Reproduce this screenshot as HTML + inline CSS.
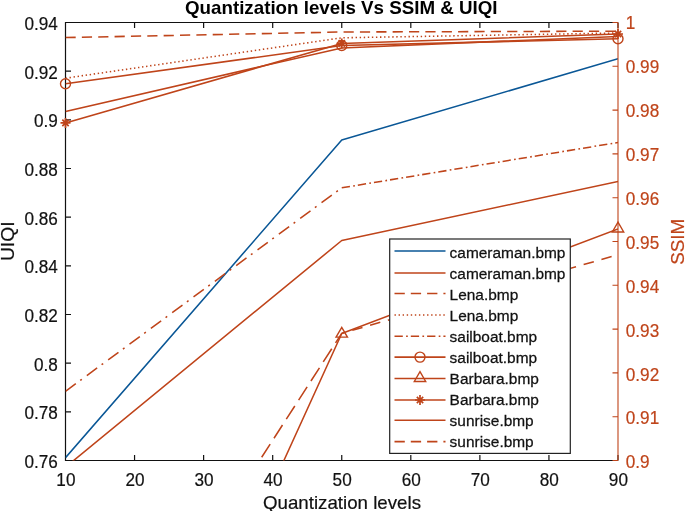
<!DOCTYPE html><html><head><meta charset="utf-8"><title>Quantization levels Vs SSIM &amp; UIQI</title>
<style>html,body{margin:0;padding:0;background:#fff;overflow:hidden;}svg{display:block;}text{font-family:"Liberation Sans",Arial,sans-serif;}</style></head><body>
<svg width="685" height="511" viewBox="0 0 685 511">
<rect width="685" height="511" fill="#fff"/>
<defs><clipPath id="c"><rect x="65.5" y="22.5" width="552.5" height="438.0"/></clipPath></defs>
<path d="M65.5,22.5 L618.0,22.5 M65.5,460.5 L618.0,460.5 M65.5,22.0 L65.5,461.0 M65.50,460.5 L65.50,455.0 M65.50,22.5 L65.50,28.0 M134.56,460.5 L134.56,455.0 M134.56,22.5 L134.56,28.0 M203.62,460.5 L203.62,455.0 M203.62,22.5 L203.62,28.0 M272.69,460.5 L272.69,455.0 M272.69,22.5 L272.69,28.0 M341.75,460.5 L341.75,455.0 M341.75,22.5 L341.75,28.0 M410.81,460.5 L410.81,455.0 M410.81,22.5 L410.81,28.0 M479.88,460.5 L479.88,455.0 M479.88,22.5 L479.88,28.0 M548.94,460.5 L548.94,455.0 M548.94,22.5 L548.94,28.0 M618.00,460.5 L618.00,455.0 M618.00,22.5 L618.00,28.0 M65.5,460.50 L71.0,460.50 M65.5,411.83 L71.0,411.83 M65.5,363.17 L71.0,363.17 M65.5,314.50 L71.0,314.50 M65.5,265.83 L71.0,265.83 M65.5,217.17 L71.0,217.17 M65.5,168.50 L71.0,168.50 M65.5,119.83 L71.0,119.83 M65.5,71.17 L71.0,71.17 M65.5,22.50 L71.0,22.50" fill="none" stroke="#111" stroke-width="1.2"/>
<g clip-path="url(#c)">
<polyline points="65.50,457.70 341.75,140.00 618.00,58.80" fill="none" stroke="#0a5796" stroke-width="1.55" stroke-linejoin="round"/>
<polyline points="65.50,467.20 341.75,240.50 618.00,181.50" fill="none" stroke="#bf441a" stroke-width="1.55" stroke-linejoin="round"/>
<polyline points="65.50,37.6 341.75,32.0 618.00,31.2" fill="none" stroke="#bf441a" stroke-width="1.55" stroke-dasharray="10.2 6.16"/>
<polyline points="65.50,78.2 341.75,37.8 618.00,33.0" fill="none" stroke="#bf441a" stroke-width="1.55" stroke-dasharray="1.4 2.67"/>
<line x1="65.50" y1="391.30" x2="341.75" y2="187.80" stroke="#bf441a" stroke-width="1.55" stroke-dasharray="12.8 5.5 2 6.2" stroke-dashoffset="0"/><line x1="341.75" y1="187.80" x2="618.00" y2="142.50" stroke="#bf441a" stroke-width="1.55" stroke-dasharray="8.3 3.3 1.7 3" stroke-dashoffset="0"/>
<polyline points="65.50,83.80 341.75,45.50 618.00,38.70" fill="none" stroke="#bf441a" stroke-width="1.55" stroke-linejoin="round"/>
<polyline points="65.50,940.00 341.75,333.50 618.00,228.90" fill="none" stroke="#bf441a" stroke-width="1.55" stroke-linejoin="round"/>
<polyline points="65.50,122.90 341.75,43.40 618.00,34.00" fill="none" stroke="#bf441a" stroke-width="1.55" stroke-linejoin="round"/>
<polyline points="65.50,111.40 341.75,47.90 618.00,36.40" fill="none" stroke="#bf441a" stroke-width="1.55" stroke-linejoin="round"/>
<line x1="341.75" y1="333.30" x2="65.50" y2="761.00" stroke="#bf441a" stroke-width="1.55" stroke-dasharray="15.7 7" stroke-dashoffset="4.3"/><line x1="341.75" y1="333.30" x2="618.00" y2="254.80" stroke="#bf441a" stroke-width="1.55" stroke-dasharray="10.6 7.9" stroke-dashoffset="7.54"/>
</g>
<circle cx="65.50" cy="83.80" r="5" fill="none" stroke="#bf441a" stroke-width="1.4"/>
<circle cx="341.75" cy="45.50" r="5" fill="none" stroke="#bf441a" stroke-width="1.4"/>
<circle cx="618.00" cy="38.70" r="5" fill="none" stroke="#bf441a" stroke-width="1.4"/>
<path d="M336.05,337.10 L347.45,337.10 L341.75,327.30 Z" fill="none" stroke="#bf441a" stroke-width="1.4" stroke-linejoin="miter"/>
<path d="M612.30,232.00 L623.70,232.00 L618.00,222.20 Z" fill="none" stroke="#bf441a" stroke-width="1.4" stroke-linejoin="miter"/>
<path d="M60.50,122.90 L70.50,122.90 M62.32,119.72 L68.68,126.08 M65.50,117.90 L65.50,127.90 M68.68,119.72 L62.32,126.08" fill="none" stroke="#bf441a" stroke-width="1.7"/>
<path d="M336.75,43.40 L346.75,43.40 M338.57,40.22 L344.93,46.58 M341.75,38.40 L341.75,48.40 M344.93,40.22 L338.57,46.58" fill="none" stroke="#bf441a" stroke-width="1.7"/>
<path d="M613.00,34.00 L623.00,34.00 M614.82,30.82 L621.18,37.18 M618.00,29.00 L618.00,39.00 M621.18,30.82 L614.82,37.18" fill="none" stroke="#bf441a" stroke-width="1.7"/>
<path d="M618.0,22.5 L618.0,460.5 M618.0,460.50 L612.5,460.50 M618.0,416.70 L612.5,416.70 M618.0,372.90 L612.5,372.90 M618.0,329.10 L612.5,329.10 M618.0,285.30 L612.5,285.30 M618.0,241.50 L612.5,241.50 M618.0,197.70 L612.5,197.70 M618.0,153.90 L612.5,153.90 M618.0,110.10 L612.5,110.10 M618.0,66.30 L612.5,66.30 M618.0,22.50 L612.5,22.50" fill="none" stroke="#bf441a" stroke-width="1.1"/>
<text transform="translate(65.90,485.8) scale(0.97,1)" font-size="17.7" text-anchor="middle" fill="#111" stroke="#111" stroke-width="0.2">10</text>
<text transform="translate(134.96,485.8) scale(0.97,1)" font-size="17.7" text-anchor="middle" fill="#111" stroke="#111" stroke-width="0.2">20</text>
<text transform="translate(204.03,485.8) scale(0.97,1)" font-size="17.7" text-anchor="middle" fill="#111" stroke="#111" stroke-width="0.2">30</text>
<text transform="translate(273.09,485.8) scale(0.97,1)" font-size="17.7" text-anchor="middle" fill="#111" stroke="#111" stroke-width="0.2">40</text>
<text transform="translate(342.15,485.8) scale(0.97,1)" font-size="17.7" text-anchor="middle" fill="#111" stroke="#111" stroke-width="0.2">50</text>
<text transform="translate(411.21,485.8) scale(0.97,1)" font-size="17.7" text-anchor="middle" fill="#111" stroke="#111" stroke-width="0.2">60</text>
<text transform="translate(480.27,485.8) scale(0.97,1)" font-size="17.7" text-anchor="middle" fill="#111" stroke="#111" stroke-width="0.2">70</text>
<text transform="translate(549.34,485.8) scale(0.97,1)" font-size="17.7" text-anchor="middle" fill="#111" stroke="#111" stroke-width="0.2">80</text>
<text transform="translate(618.40,485.8) scale(0.97,1)" font-size="17.7" text-anchor="middle" fill="#111" stroke="#111" stroke-width="0.2">90</text>
<text transform="translate(57.8,468.10) scale(0.97,1)" font-size="17.7" text-anchor="end" fill="#111" stroke="#111" stroke-width="0.2">0.76</text>
<text transform="translate(57.8,419.43) scale(0.97,1)" font-size="17.7" text-anchor="end" fill="#111" stroke="#111" stroke-width="0.2">0.78</text>
<text transform="translate(57.8,370.77) scale(0.97,1)" font-size="17.7" text-anchor="end" fill="#111" stroke="#111" stroke-width="0.2">0.8</text>
<text transform="translate(57.8,322.10) scale(0.97,1)" font-size="17.7" text-anchor="end" fill="#111" stroke="#111" stroke-width="0.2">0.82</text>
<text transform="translate(57.8,273.43) scale(0.97,1)" font-size="17.7" text-anchor="end" fill="#111" stroke="#111" stroke-width="0.2">0.84</text>
<text transform="translate(57.8,224.77) scale(0.97,1)" font-size="17.7" text-anchor="end" fill="#111" stroke="#111" stroke-width="0.2">0.86</text>
<text transform="translate(57.8,176.10) scale(0.97,1)" font-size="17.7" text-anchor="end" fill="#111" stroke="#111" stroke-width="0.2">0.88</text>
<text transform="translate(57.8,127.43) scale(0.97,1)" font-size="17.7" text-anchor="end" fill="#111" stroke="#111" stroke-width="0.2">0.9</text>
<text transform="translate(57.8,78.77) scale(0.97,1)" font-size="17.7" text-anchor="end" fill="#111" stroke="#111" stroke-width="0.2">0.92</text>
<text transform="translate(57.8,30.10) scale(0.97,1)" font-size="17.7" text-anchor="end" fill="#111" stroke="#111" stroke-width="0.2">0.94</text>
<text transform="translate(625.8,468.40) scale(0.97,1)" font-size="17.7" text-anchor="start" fill="#bf441a" stroke="#bf441a" stroke-width="0.2">0.9</text>
<text transform="translate(625.8,424.48) scale(0.97,1)" font-size="17.7" text-anchor="start" fill="#bf441a" stroke="#bf441a" stroke-width="0.2">0.91</text>
<text transform="translate(625.8,380.56) scale(0.97,1)" font-size="17.7" text-anchor="start" fill="#bf441a" stroke="#bf441a" stroke-width="0.2">0.92</text>
<text transform="translate(625.8,336.64) scale(0.97,1)" font-size="17.7" text-anchor="start" fill="#bf441a" stroke="#bf441a" stroke-width="0.2">0.93</text>
<text transform="translate(625.8,292.72) scale(0.97,1)" font-size="17.7" text-anchor="start" fill="#bf441a" stroke="#bf441a" stroke-width="0.2">0.94</text>
<text transform="translate(625.8,248.80) scale(0.97,1)" font-size="17.7" text-anchor="start" fill="#bf441a" stroke="#bf441a" stroke-width="0.2">0.95</text>
<text transform="translate(625.8,204.88) scale(0.97,1)" font-size="17.7" text-anchor="start" fill="#bf441a" stroke="#bf441a" stroke-width="0.2">0.96</text>
<text transform="translate(625.8,160.96) scale(0.97,1)" font-size="17.7" text-anchor="start" fill="#bf441a" stroke="#bf441a" stroke-width="0.2">0.97</text>
<text transform="translate(625.8,117.04) scale(0.97,1)" font-size="17.7" text-anchor="start" fill="#bf441a" stroke="#bf441a" stroke-width="0.2">0.98</text>
<text transform="translate(625.8,73.12) scale(0.97,1)" font-size="17.7" text-anchor="start" fill="#bf441a" stroke="#bf441a" stroke-width="0.2">0.99</text>
<text transform="translate(625.8,29.20) scale(0.97,1)" font-size="17.7" text-anchor="start" fill="#bf441a" stroke="#bf441a" stroke-width="0.2">1</text>
<text x="263" y="509.4" font-size="17.8" textLength="158" lengthAdjust="spacingAndGlyphs" fill="#111" stroke="#111" stroke-width="0.2">Quantization levels</text>
<text transform="translate(14.4,241.3) rotate(-90) scale(1.065,1)" font-size="18.1" text-anchor="middle" fill="#111" stroke="#111" stroke-width="0.2">UIQI</text>
<text transform="translate(684.4,241.8) rotate(-90) scale(1.04,1)" font-size="18.1" text-anchor="middle" fill="#bf441a" stroke="#bf441a" stroke-width="0.2">SSIM</text>
<text x="185" y="13.9" font-size="17.8" font-weight="bold" textLength="312.5" lengthAdjust="spacingAndGlyphs" fill="#000">Quantization levels Vs SSIM &amp; UIQI</text>
<rect x="389.7" y="239.0" width="180.59999999999997" height="214.39999999999998" fill="#fff" stroke="#222" stroke-width="1.2"/>
<line x1="394.5" y1="251.00" x2="445.5" y2="251.00" stroke="#0a5796" stroke-width="1.55"/>
<text transform="translate(449.6,257.50) scale(1.03,1)" font-size="15" fill="#111" stroke="#111" stroke-width="0.25">cameraman.bmp</text>
<line x1="394.5" y1="272.90" x2="445.5" y2="272.90" stroke="#bf441a" stroke-width="1.55"/>
<text transform="translate(449.6,278.60) scale(1.03,1)" font-size="15" fill="#111" stroke="#111" stroke-width="0.25">cameraman.bmp</text>
<line x1="394.5" y1="293.40" x2="445.5" y2="293.40" stroke="#bf441a" stroke-width="1.55" stroke-dasharray="10.3 6"/>
<text transform="translate(449.6,299.70) scale(1.03,1)" font-size="15" fill="#111" stroke="#111" stroke-width="0.25">Lena.bmp</text>
<line x1="394.5" y1="314.90" x2="445.5" y2="314.90" stroke="#bf441a" stroke-width="1.55" stroke-dasharray="1.4 2.67"/>
<text transform="translate(449.6,320.80) scale(1.03,1)" font-size="15" fill="#111" stroke="#111" stroke-width="0.25">Lena.bmp</text>
<line x1="394.5" y1="336.30" x2="445.5" y2="336.30" stroke="#bf441a" stroke-width="1.55" stroke-dasharray="8.3 3.3 1.7 3"/>
<text transform="translate(449.6,341.90) scale(1.03,1)" font-size="15" fill="#111" stroke="#111" stroke-width="0.25">sailboat.bmp</text>
<line x1="394.5" y1="357.10" x2="445.5" y2="357.10" stroke="#bf441a" stroke-width="1.55"/>
<circle cx="420.00" cy="357.10" r="5" fill="none" stroke="#bf441a" stroke-width="1.4"/>
<text transform="translate(449.6,363.00) scale(1.03,1)" font-size="15" fill="#111" stroke="#111" stroke-width="0.25">sailboat.bmp</text>
<line x1="394.5" y1="378.40" x2="445.5" y2="378.40" stroke="#bf441a" stroke-width="1.55"/>
<path d="M414.30,381.50 L425.70,381.50 L420.00,371.70 Z" fill="none" stroke="#bf441a" stroke-width="1.4" stroke-linejoin="miter"/>
<text transform="translate(449.6,384.10) scale(1.03,1)" font-size="15" fill="#111" stroke="#111" stroke-width="0.25">Barbara.bmp</text>
<line x1="394.5" y1="400.00" x2="445.5" y2="400.00" stroke="#bf441a" stroke-width="1.55"/>
<path d="M415.00,400.00 L425.00,400.00 M416.82,396.82 L423.18,403.18 M420.00,395.00 L420.00,405.00 M423.18,396.82 L416.82,403.18" fill="none" stroke="#bf441a" stroke-width="1.7"/>
<text transform="translate(449.6,405.20) scale(1.03,1)" font-size="15" fill="#111" stroke="#111" stroke-width="0.25">Barbara.bmp</text>
<line x1="394.5" y1="420.30" x2="445.5" y2="420.30" stroke="#bf441a" stroke-width="1.55"/>
<text transform="translate(449.6,426.30) scale(1.03,1)" font-size="15" fill="#111" stroke="#111" stroke-width="0.25">sunrise.bmp</text>
<line x1="394.5" y1="441.60" x2="445.5" y2="441.60" stroke="#bf441a" stroke-width="1.55" stroke-dasharray="10.3 6"/>
<text transform="translate(449.6,447.40) scale(1.03,1)" font-size="15" fill="#111" stroke="#111" stroke-width="0.25">sunrise.bmp</text>
</svg></body></html>
